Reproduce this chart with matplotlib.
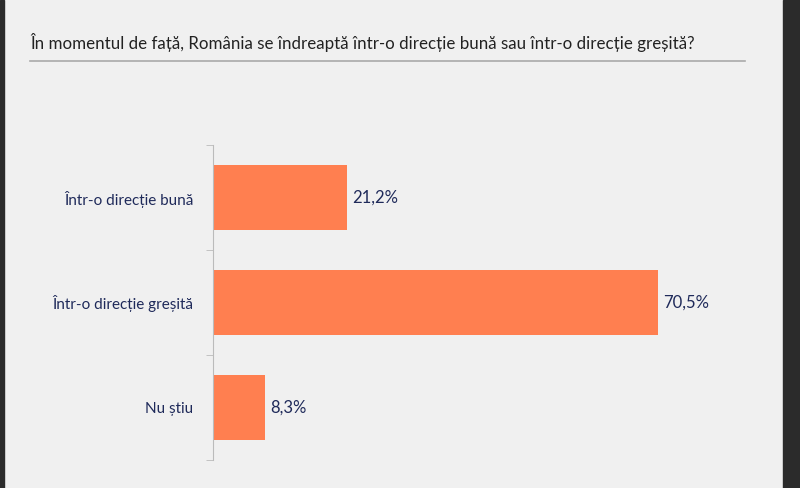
import matplotlib
matplotlib.use("Agg")
import matplotlib.pyplot as plt
from matplotlib.patches import Rectangle
from matplotlib.lines import Line2D

categories = ["Într-o direcție bună", "Într-o direcție greșită", "Nu știu"]
values = [21.2, 70.5, 8.3]
labels = ["21,2%", "70,5%", "8,3%"]
title = "În momentul de față, România se îndreaptă într-o direcție bună sau într-o direcție greșită?"

plt.rcParams['font.family'] = ['Lato', 'DejaVu Sans']
bg = "#f0f0f0"
fig = plt.figure(figsize=(8, 4.88), dpi=100, facecolor=bg)
fig.patches.append(Rectangle((0, 0), 4/800, 1, transform=fig.transFigure, color="#2b2b2b", zorder=10))
fig.patches.append(Rectangle((783/800, 0), 17/800, 1, transform=fig.transFigure, color="#2b2b2b", zorder=10))
fig.text(30/800, 1-43/488, title, fontsize=12.2, color="#222222", va="center", ha="left")
fig.lines.append(Line2D([30/800, 745/800], [1-61/488]*2, transform=fig.transFigure, color="#aaaaaa", lw=1.2))

ax = fig.add_axes([213/800, 1-460/488, 568/800, 315/488])
ax.set_facecolor(bg)
y = list(range(len(categories)))
ax.barh(y, values, height=0.62, color="#ff7f50")
ax.set_xlim(0, 90)
ax.set_ylim(2.5, -0.5)
ax.set_yticks(y)
ax.set_yticklabels(categories, fontsize=11, color="#1f2a5a")
ax.set_yticks([-0.5, 0.5, 1.5, 2.5], minor=True)
ax.tick_params(axis="y", which="major", length=0, pad=14)
ax.tick_params(axis="y", which="minor", length=5, color="#bbbbbb", direction="out")
ax.set_xticks([])
for s in ["top", "right", "bottom"]:
    ax.spines[s].set_visible(False)
ax.spines["left"].set_color("#bbbbbb")
for yi, v, l in zip(y, values, labels):
    ax.text(v + 0.8, yi, l, va="center", ha="left", fontsize=12, color="#1f2a5a")
fig.savefig("out.png", dpi=100, facecolor=bg)
